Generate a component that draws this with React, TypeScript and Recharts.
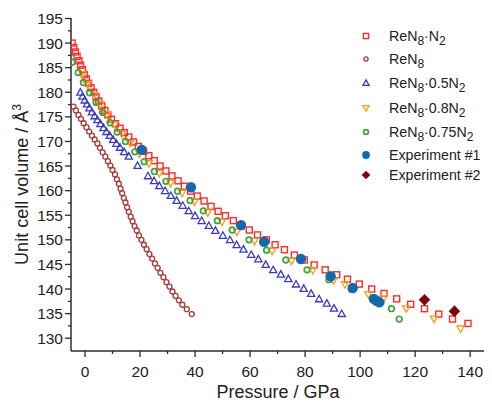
import { ScatterChart, Scatter, XAxis, YAxis, Legend, Label } from 'recharts'

// [pressure GPa, volume Å³]
const reN8N2 = [
  [-4.7, 190.0], [-4.1, 189.1], [-3.5, 188.2], [-2.9, 187.3], [-2.2, 186.4], [-1.6, 185.5],
  [-0.9, 184.6], [-0.2, 183.6], [0.5, 182.7], [1.3, 181.8], [2.2, 180.9], [3.1, 180.0],
  [4.0, 179.1], [5.0, 178.2], [6.1, 177.2], [7.2, 176.3], [8.3, 175.4], [9.6, 174.5],
  [11.1, 173.6], [12.7, 172.7], [14.3, 171.8], [15.9, 170.9], [17.6, 169.9], [19.4, 169.0],
  [21.3, 168.0], [23.2, 167.1], [25.2, 166.1], [27.3, 165.0], [29.4, 164.0], [31.6, 163.0],
  [33.8, 162.0], [36.1, 160.9], [38.4, 159.9], [40.8, 158.9], [43.3, 157.9], [45.8, 156.8],
  [48.4, 155.8], [51.0, 154.9], [53.9, 153.9], [56.8, 152.9], [59.7, 152.0], [62.7, 151.0],
  [65.9, 150.0], [69.1, 149.0], [72.5, 148.0], [76.1, 146.9], [79.7, 145.9], [83.3, 144.9],
  [87.3, 143.9], [91.5, 142.9], [95.4, 142.0], [99.7, 141.0], [104.2, 140.0], [108.7, 139.1],
  [113.3, 138.0], [118.4, 136.9], [123.4, 136.0], [128.6, 134.9], [133.6, 133.9], [139.2, 133.0],
]

const reN8 = [
  [-4.2, 177.1], [-3.3, 176.3], [-2.4, 175.4], [-1.5, 174.6], [-0.5, 173.7], [0.5, 172.9],
  [1.5, 172.0], [2.5, 171.2], [3.5, 170.4], [4.5, 169.6], [5.4, 168.7], [6.4, 167.8],
  [7.4, 166.9], [8.3, 166.0], [9.2, 165.1], [10.0, 164.2], [10.9, 163.3], [11.6, 162.3],
  [12.3, 161.4], [12.9, 160.4], [13.5, 159.5], [14.1, 158.5], [14.7, 157.6], [15.3, 156.6],
  [15.9, 155.7], [16.6, 154.7], [17.3, 153.8], [18.0, 152.8], [18.8, 151.9], [19.6, 150.9],
  [20.5, 150.0], [21.4, 149.0], [22.4, 148.1], [23.4, 147.1], [24.4, 146.2], [25.4, 145.2],
  [26.4, 144.3], [27.4, 143.3], [28.5, 142.4], [29.6, 141.4], [30.7, 140.5], [31.8, 139.5],
  [32.9, 138.6], [34.1, 137.7], [35.4, 136.8], [37.0, 135.9], [38.8, 134.9],
]

const reN8_05N2 = [
  [-1.7, 180.0], [-0.9, 179.2], [-0.1, 178.4], [0.7, 177.6], [1.6, 176.8], [2.5, 176.0],
  [3.5, 175.2], [4.5, 174.4], [5.6, 173.6], [6.7, 172.8], [7.8, 172.0], [9.0, 171.2],
  [10.2, 170.4], [11.4, 169.6], [12.7, 168.8], [14.2, 167.9], [15.9, 167.0], [19.1, 165.1],
  [22.9, 163.0], [25.1, 162.0], [27.0, 161.0], [29.1, 160.0], [31.2, 159.0], [33.3, 158.0],
  [35.5, 157.0], [37.7, 155.9], [40.0, 154.9], [42.4, 153.9], [45.0, 152.9], [47.4, 151.9],
  [50.1, 150.9], [52.7, 150.0], [55.1, 149.0], [57.6, 148.1], [60.4, 147.0], [63.0, 146.1],
  [65.7, 145.0], [68.4, 143.9], [71.2, 143.0], [73.9, 142.1], [76.7, 141.0], [79.5, 140.1],
  [82.2, 139.1], [85.1, 138.0], [87.9, 137.1], [90.5, 136.1], [93.3, 135.0],
]

const reN8_08N2 = [
  [-1.0, 183.6], [1.0, 181.6], [3.2, 179.5], [5.6, 177.5], [8.0, 175.5], [10.7, 173.4],
  [13.4, 171.5], [16.4, 169.6], [19.8, 167.5], [23.2, 165.5], [27.0, 163.5], [31.1, 161.5],
  [35.3, 159.5], [39.8, 157.7], [44.6, 155.5], [49.8, 153.6], [55.2, 151.6], [61.6, 149.7],
  [68.0, 147.7], [75.1, 145.7], [82.8, 143.8], [90.3, 141.7], [94.5, 140.9], [103.0, 138.9],
  [108.5, 138.0], [116.8, 136.0], [126.9, 133.9], [136.5, 131.9],
]

const reN8_075N2 = [
  [-4.7, 186.1], [-2.5, 184.0], [-0.6, 182.0], [1.6, 179.9], [4.0, 177.9], [6.4, 175.9],
  [9.1, 173.8], [11.7, 171.9], [14.7, 170.0], [18.1, 167.9], [21.5, 165.9], [25.2, 163.9],
  [29.4, 161.9], [33.6, 159.9], [38.2, 158.0], [43.0, 155.9], [48.1, 153.9], [53.5, 152.0],
  [59.6, 150.0], [66.0, 147.9], [73.0, 145.9], [80.7, 143.9], [88.7, 141.9], [96.8, 140.0],
  [104.5, 138.0], [111.4, 136.0], [114.2, 133.9],
]

const experiment1 = [
  [20.6, 168.3], [38.5, 160.7], [56.7, 153.0], [65.1, 149.6], [78.5, 146.1],
  [89.3, 142.6], [97.3, 140.2], [105.0, 138.0], [106.0, 137.6], [107.0, 137.3],
]

const experiment2 = [
  [123.4, 137.8], [134.3, 135.5],
]

const seriesNames = [
  'ReN8·N2', 'ReN8', 'ReN8·0.5N2', 'ReN8·0.8N2', 'ReN8·0.75N2', 'Experiment #1', 'Experiment #2',
]

const xTicks = [0, 10, 20, 30, 40, 50, 60, 70, 80, 90, 100, 110, 120, 130, 140]
const yTicks = [
  130, 132.5, 135, 137.5, 140, 142.5, 145, 147.5, 150, 152.5, 155, 157.5, 160, 162.5,
  165, 167.5, 170, 172.5, 175, 177.5, 180, 182.5, 185, 187.5, 190, 192.5, 195,
]

const FONT = '"Liberation Sans", Arial, Helvetica, sans-serif'
const AXIS = '#2b2b2b'

const styles = [
  { kind: 'square', color: '#ff2a2a' },
  { kind: 'circle', color: '#a83a3a' },
  { kind: 'triUp', color: '#3a3ac0' },
  { kind: 'triDown', color: '#ff9a1a' },
  { kind: 'ring', color: '#3aa53a' },
  { kind: 'dot', color: '#1668ad' },
  { kind: 'diamond', color: '#7a0808' },
]

const allSeries = [reN8N2, reN8, reN8_05N2, reN8_08N2, reN8_075N2, experiment1, experiment2]

function Marker({ kind, color, cx, cy, s = 1 }: any) {
  switch (kind) {
    case 'square':
      return <rect x={cx - 3 * s} y={cy - 3 * s} width={6 * s} height={6 * s} fill="none" stroke={color} strokeWidth={1.4} />
    case 'circle':
      return <circle cx={cx} cy={cy} r={2.5 * s} fill="none" stroke={color} strokeWidth={1.3} />
    case 'triUp': {
      const h = 3.6 * s
      return <polygon points={`${cx},${cy - h} ${cx + h},${cy + h * 0.8} ${cx - h},${cy + h * 0.8}`} fill="none" stroke={color} strokeWidth={1.3} />
    }
    case 'triDown': {
      const h = 3.6 * s
      return <polygon points={`${cx},${cy + h} ${cx + h},${cy - h * 0.8} ${cx - h},${cy - h * 0.8}`} fill="none" stroke={color} strokeWidth={1.3} />
    }
    case 'ring':
      return <circle cx={cx} cy={cy} r={2.8 * s} fill="none" stroke={color} strokeWidth={1.7} />
    case 'dot':
      return <circle cx={cx} cy={cy} r={5.2 * s} fill={color} />
    default: {
      const h = 5.8 * s
      return <polygon points={`${cx},${cy - h} ${cx + h},${cy} ${cx},${cy + h} ${cx - h},${cy}`} fill={color} />
    }
  }
}

function formula(text: string) {
  // digit right after N is a subscript
  const parts = text.split(/(?<=N)(\d)/)
  return parts.map((p, i) =>
    i % 2 === 1 ? (
      <sub key={i} style={{ fontSize: '0.85em', verticalAlign: '-0.35em', lineHeight: 0 }}>{p}</sub>
    ) : (
      <span key={i}>{p}</span>
    ),
  )
}

const legendRows = [27.7, 51, 74.7, 100.3, 124.3, 147, 167]

function LegendBox() {
  return (
    <div style={{ position: 'relative', width: 137, height: 180, fontFamily: FONT, fontSize: 14.2, color: '#222' }}>
      {seriesNames.map((name, i) => (
        <div key={name} style={{ position: 'absolute', left: 0, top: legendRows[i] - 10 - 10, height: 20, display: 'flex', alignItems: 'center', whiteSpace: 'nowrap' }}>
          <svg width={30} height={20} style={{ display: 'block' }}>
            <Marker kind={styles[i].kind} color={styles[i].color} cx={11} cy={10} s={i >= 5 ? 0.75 : 0.85} />
          </svg>
          <span style={{ marginLeft: 4, lineHeight: '20px' }}>{formula(name)}</span>
        </div>
      ))}
    </div>
  )
}

function XTick({ x, y, payload }: any) {
  const major = payload.value % 20 === 0
  return (
    <g>
      <line x1={x} y1={y} x2={x} y2={y + (major ? 6 : 3)} stroke={AXIS} strokeWidth={1.3} />
      {major && (
        <text x={x} y={y + 26} textAnchor="middle" fontSize={15.5} fill="#222" fontFamily={FONT}>{payload.value}</text>
      )}
    </g>
  )
}

function YTick({ x, y, payload }: any) {
  const major = payload.value % 5 === 0
  return (
    <g>
      <line x1={x} y1={y} x2={x - (major ? 6 : 3)} y2={y} stroke={AXIS} strokeWidth={1.3} />
      {major && (
        <text x={x - 8} y={y} dy="0.36em" textAnchor="end" fontSize={15.5} fill="#222" fontFamily={FONT}>{payload.value}</text>
      )}
    </g>
  )
}

export default function App() {
  return (
    <ScatterChart width={484} height={393} margin={{ top: 10, right: 7, bottom: 0, left: 0 }}>
      <XAxis
        type="number"
        dataKey="p"
        domain={[-5.1, 145.4]}
        ticks={xTicks}
        interval={0}
        tickSize={0}
        tickMargin={0}
        tick={<XTick />}
        height={50}
        stroke={AXIS}
        strokeWidth={1.5}
        allowDataOverflow
      >
        <Label
          content={({ viewBox }: any) => (
            <text x={viewBox.x + viewBox.width / 2} y={viewBox.y + 47} textAnchor="middle" fontSize={18} fill="#222" fontFamily={FONT}>
              Pressure / GPa
            </text>
          )}
        />
      </XAxis>
      <YAxis
        type="number"
        dataKey="v"
        domain={[127.4, 195.1]}
        ticks={yTicks}
        interval={0}
        tickSize={0}
        tickMargin={0}
        tick={<YTick />}
        width={63}
        stroke={AXIS}
        strokeWidth={1.5}
        allowDataOverflow
      >
        <Label
          content={({ viewBox }: any) => {
            const cx = 20
            const cy = viewBox.y + viewBox.height / 2
            return (
              <text x={cx} y={cy} transform={`rotate(-90 ${cx} ${cy})`} textAnchor="middle" fontSize={18} fill="#222" fontFamily={FONT}>
                Unit cell volume / Å<tspan dy={-7} fontSize={12}>3</tspan>
              </text>
            )
          }}
        />
      </YAxis>
      <Legend
        layout="vertical"
        align="center"
        verticalAlign="middle"
        wrapperStyle={{ left: 347, top: 10, width: 137, height: 180 }}
        content={() => <LegendBox />}
      />
      {allSeries.map((pts, i) => (
        <Scatter
          key={seriesNames[i]}
          name={seriesNames[i]}
          data={pts.map(([p, v]) => ({ p, v }))}
          isAnimationActive={false}
          shape={(props: any) => <Marker kind={styles[i].kind} color={styles[i].color} cx={props.cx} cy={props.cy} />}
        />
      ))}
    </ScatterChart>
  )
}
